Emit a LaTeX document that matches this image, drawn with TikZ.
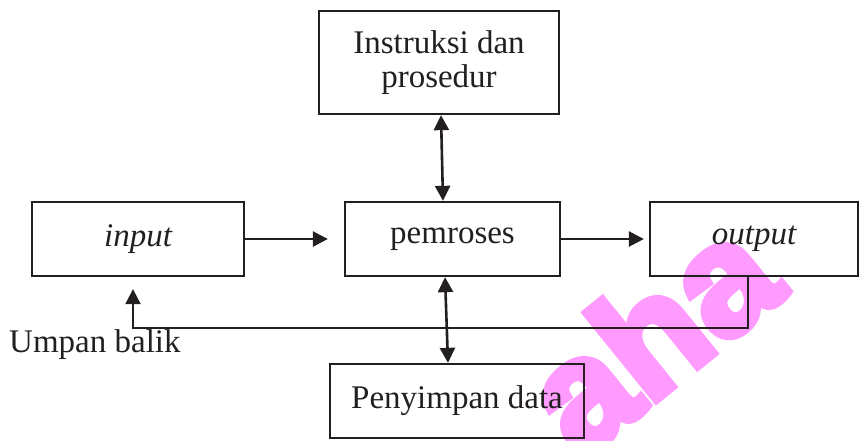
\documentclass[tikz,border=0pt]{standalone}
\usepackage{fontspec}
\setmainfont{Liberation Serif}
\newfontfamily\wmfont[BoldFeatures={FakeBold=5}]{Liberation Sans}
\usetikzlibrary{arrows.meta}
\definecolor{wmpink}{HTML}{FF9BFF}
\definecolor{ink}{HTML}{231F20}
\tikzset{
  blk/.style={draw=ink, line width=2.3pt, rectangle, inner sep=0pt, align=center,
    font=\fontsize{33}{34}\selectfont, text=ink},
  tip/.tip={Triangle[length=15pt,width=15pt]},
  con/.style={draw=ink, line width=2.6pt, -tip},
  dcon/.style={draw=ink, line width=2.6pt, tip-tip},
  lbl/.style={font=\fontsize{33}{34}\selectfont, text=ink, inner sep=0pt}
}
\begin{document}
\begin{tikzpicture}[x=1pt,y=-1pt]
\useasboundingbox (0,0) rectangle (860,440);
% watermark (behind)
\node[text=wmpink, font=\wmfont\bfseries\fontsize{155}{155}\selectfont, rotate=39, inner sep=0pt] (wm) at (650,334) {aha};
% boxes
\node[blk, minimum width=240pt, minimum height=103pt] (instr) at (439,62.5) {Instruksi dan\\prosedur};
\node[blk, minimum width=212pt, minimum height=74pt] (input) at (138,239) {\itshape input};
\node[blk, minimum width=215pt, minimum height=74pt] (proc) at (452.5,239) {pemroses};
\node[blk, minimum width=208pt, minimum height=74pt] (output) at (754,239) {\itshape output};
\node[blk, minimum width=254pt, minimum height=74pt] (store) at (457,401) {Penyimpan data};
% connectors
\draw[con, shorten >=16pt] (input.east) -- (proc.west);
\draw[con, shorten >=5pt] (proc.east) -- (output.west);
\draw[dcon] ([xshift=2pt]instr.south) -- ([xshift=-9.5pt]proc.north);
\draw[dcon] ([xshift=-7.5pt]proc.south) -- ([xshift=-9pt]store.north);
\coordinate (fbR) at (748,328);
\coordinate (fbL) at (133,328);
\draw[con, line width=2.2pt] ([xshift=-6pt]output.south) -- (fbR) -- (fbL) -- ([xshift=-5pt,yshift=-12pt]input.south);
\node[lbl, anchor=base west] (fb) at (9,352) {Umpan balik};
\end{tikzpicture}
\end{document}
